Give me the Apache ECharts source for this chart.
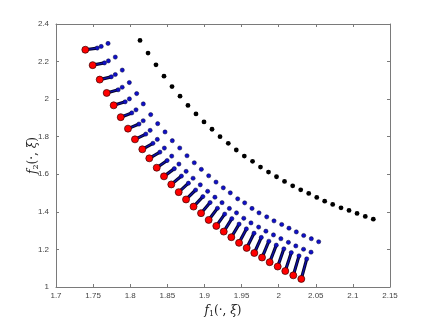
<!DOCTYPE html>
<html>
<head>
<meta charset="utf-8">
<script src="https://cdn.jsdelivr.net/npm/echarts@6/dist/echarts.min.js"></script>
<style>
  html, body { margin: 0; padding: 0; background: #fff; }
  #chart { width: 431px; height: 323px; }
</style>
</head>
<body>
<div id="chart"></div>
<script>
// 红点（每条扇形的起点）
const redX = [1.7395, 1.7494, 1.7589, 1.7683, 1.7777, 1.7872, 1.7970, 1.8064, 1.8163, 1.8257,
  1.8357, 1.8455, 1.8553, 1.8653, 1.8752, 1.8853, 1.8954, 1.9057, 1.9160, 1.9260,
  1.9362, 1.9466, 1.9569, 1.9672, 1.9776, 1.9879, 1.9987, 2.0089, 2.0197, 2.0305];
const redY = [2.263, 2.181, 2.104, 2.033, 1.967, 1.904, 1.843, 1.786, 1.733, 1.685,
  1.635, 1.589, 1.546, 1.505, 1.466, 1.428, 1.393, 1.357, 1.325, 1.295,
  1.265, 1.235, 1.208, 1.181, 1.157, 1.132, 1.109, 1.085, 1.062, 1.043];

// 黑点曲线
const blackX = [1.8132, 1.8240, 1.8347, 1.8455, 1.8563, 1.8671, 1.8778, 1.8886, 1.8994, 1.9102,
  1.9210, 1.9321, 1.9429, 1.9537, 1.9648, 1.9755, 1.9863, 1.9971, 2.0079, 2.0189,
  2.0297, 2.0405, 2.0513, 2.0620, 2.0728, 2.0840, 2.0948, 2.1056, 2.1167, 2.1275];
const blackY = [2.3125, 2.2453, 2.1828, 2.1225, 2.0670, 2.0158, 1.9667, 1.9213, 1.8787, 1.8397,
  1.8002, 1.7650, 1.7292, 1.6972, 1.6689, 1.6385, 1.6119, 1.5868, 1.5622, 1.5387,
  1.5174, 1.4982, 1.4768, 1.4571, 1.4395, 1.4213, 1.4075, 1.3915, 1.3755, 1.3610];

// 蓝点：扇形末端
const tipX = [1.7701, 1.7799, 1.7893, 1.7988, 1.8087, 1.8176, 1.8276, 1.8370, 1.8469, 1.8567,
  1.8667, 1.8765, 1.8863, 1.8958, 1.9057, 1.9156, 1.9254, 1.9348, 1.9448, 1.9542,
  1.9641, 1.9735, 1.9839, 1.9937, 2.0041, 2.0139, 2.0238, 2.0337, 2.0440, 2.0539];
const tipY = [2.2965, 2.2239, 2.1545, 2.0884, 2.0297, 1.9747, 1.9176, 1.8696, 1.8253, 1.7789,
  1.7399, 1.6988, 1.6615, 1.6263, 1.5921, 1.5585, 1.5281, 1.5014, 1.4694, 1.4480,
  1.4182, 1.3947, 1.3733, 1.3520, 1.3328, 1.3130, 1.2933, 1.2741, 1.2570, 1.2410];

// 蓝点：第二排
const midX = [1.7609, 1.7706, 1.7799, 1.7892, 1.7989, 1.8078, 1.8175, 1.8268, 1.8365, 1.8460,
  1.8559, 1.8656, 1.8753, 1.8847, 1.8944, 1.9043, 1.9141, 1.9237, 1.9336, 1.9432,
  1.9530, 1.9627, 1.9730, 1.9828, 1.9930, 2.0030, 2.0131, 2.0231, 2.0335, 2.0436];
const midY = [2.2805, 2.2036, 2.1311, 2.0633, 2.0014, 1.9432, 1.8851, 1.8338, 1.7858, 1.7394,
  1.6967, 1.6545, 1.6156, 1.5788, 1.5441, 1.5094, 1.4779, 1.4491, 1.4181, 1.3947,
  1.3658, 1.3413, 1.3189, 1.2970, 1.2773, 1.2570, 1.2378, 1.2186, 1.2010, 1.1855];

// 蓝点：第三排（密集段的末端）
const nearX = [1.7556, 1.7653, 1.7745, 1.7838, 1.7932, 1.8021, 1.8118, 1.8210, 1.8306, 1.8400,
  1.8497, 1.8594, 1.8690, 1.8784, 1.8881, 1.8979, 1.9076, 1.9175, 1.9273, 1.9369,
  1.9467, 1.9565, 1.9668, 1.9766, 1.9868, 1.9968, 2.0070, 2.0170, 2.0274, 2.0378];
const nearY = [2.2719, 2.1930, 2.1188, 2.0499, 1.9859, 1.9267, 1.8674, 1.8141, 1.7650, 1.7180,
  1.6732, 1.6300, 1.5905, 1.5526, 1.5163, 1.4811, 1.4496, 1.4192, 1.3882, 1.3637,
  1.3349, 1.3093, 1.2863, 1.2639, 1.2436, 1.2228, 1.2031, 1.1833, 1.1657, 1.1497];

const xTicks = { min: 1.7, max: 2.15, interval: 0.05 };
const yTicks = { min: 1, max: 2.4, interval: 0.2 };

const chart = echarts.init(document.getElementById("chart"));

const zip = (xs, ys) => xs.map((x, i) => [x, ys[i]]);
const segments = redX.map((x, i) => ({ coords: [[x, redY[i]], [nearX[i], nearY[i]]] }));
const blueList = zip(nearX, nearY).concat(zip(midX, midY), zip(tipX, tipY));

const fmt = (v) => String(+v.toFixed(2));
const axisColor = "#7a7a7a";
const labelStyle = { color: "#444", fontSize: 8, fontFamily: "Liberation Sans" };
const nameRich = {
  it: { fontFamily: "DejaVu Serif", fontStyle: "italic", fontSize: 12, color: "#222" },
  n: { fontFamily: "DejaVu Serif", fontSize: 12, color: "#222" },
  sub: { fontFamily: "DejaVu Serif", fontSize: 8, color: "#222", padding: [6, 0, 0, 0] },
};

const baseAxis = (ticks) => ({
  type: "value",
  min: ticks.min,
  max: ticks.max,
  interval: ticks.interval,
  axisLine: { show: true, onZero: false, lineStyle: { color: axisColor, width: 1 } },
  axisTick: { show: true, inside: true, length: 3, lineStyle: { color: axisColor } },
  splitLine: { show: false },
});

const option = {
  animation: false,
  grid: { left: 56, right: 41, top: 24, bottom: 36 },
  xAxis: [
    {
      ...baseAxis(xTicks),
      position: "bottom",
      axisLabel: { ...labelStyle, margin: 5, formatter: fmt },
      name: "{it|f}{sub|1}{n|(·, }{it|ξ}{n|)}",
      nameLocation: "middle",
      nameGap: 14,
      nameTextStyle: { rich: nameRich },
    },
    { ...baseAxis(xTicks), position: "top", axisLabel: { show: false } },
  ],
  yAxis: [
    {
      ...baseAxis(yTicks),
      position: "left",
      axisLabel: { ...labelStyle, margin: 7, formatter: fmt },
      name: "{it|f}{sub|2}{n|(·, }{it|ξ}{n|)}",
      nameLocation: "middle",
      nameGap: 16,
      nameMoveOverlap: false,
      nameTextStyle: { rich: nameRich },
    },
    { ...baseAxis(yTicks), position: "right", axisLabel: { show: false } },
  ],
  series: [
    {
      type: "scatter",
      data: zip(blackX, blackY),
      symbolSize: 4.8,
      itemStyle: { color: "#000", opacity: 1 },
    },
    {
      type: "lines",
      coordinateSystem: "cartesian2d",
      data: segments,
      lineStyle: { color: "#05052a", width: 3.2, opacity: 1 },
    },
    {
      type: "lines",
      coordinateSystem: "cartesian2d",
      data: segments,
      lineStyle: { color: "#1010b0", width: 1.2, opacity: 1 },
    },
    {
      type: "scatter",
      data: blueList,
      symbolSize: 4.2,
      itemStyle: { color: "#1010c8", borderColor: "#06063a", borderWidth: 0.5, opacity: 1 },
    },
    {
      type: "scatter",
      data: zip(redX, redY),
      symbolSize: 7,
      itemStyle: { color: "#f00", borderColor: "#300", borderWidth: 0.7, opacity: 1 },
    },
  ],
};
chart.setOption(option);
</script>
</body>
</html>
